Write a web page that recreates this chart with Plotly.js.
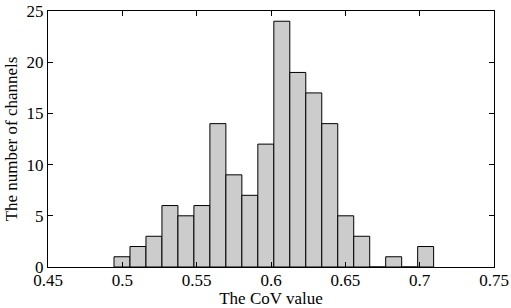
<!DOCTYPE html>
<html>
<head>
<meta charset="utf-8">
<script src="https://cdn.plot.ly/plotly-3.0.1.min.js"></script>
<style>html,body{margin:0;padding:0;background:#fff;}#chart{width:511px;height:308px;}</style>
</head>
<body>
<div id="chart"></div>
<script>
// Histogram: 20 bins starting at binStart, each binWidth wide
var binStart = 0.4944;
var binWidth = 0.01075;
var counts = [1, 2, 3, 6, 5, 6, 14, 9, 7, 12, 24, 19, 17, 14, 5, 3, 0, 1, 0, 2];
var xTicks = [0.45, 0.5, 0.55, 0.6, 0.65, 0.7, 0.75];
var xTickText = ['0.45', '0.5', '0.55', '0.6', '0.65', '0.7', '0.75'];
var yTicks = [0, 5, 10, 15, 20, 25];

var centers = counts.map(function (c, i) { return binStart + binWidth * (i + 0.5); });

var font = {family: 'Liberation Serif, Times New Roman, serif', size: 17, color: '#000'};

var trace = {
  type: 'bar',
  x: centers,
  y: counts,
  width: binWidth,
  marker: {color: '#cccccc', line: {color: '#000', width: 1}},
  hoverinfo: 'x+y'
};

var layout = {
  width: 511, height: 308,
  margin: {l: 48, r: 17, t: 11, b: 41},
  paper_bgcolor: '#fff', plot_bgcolor: '#fff',
  showlegend: false,
  font: font,
  xaxis: {
    range: [0.45, 0.75],
    tickvals: xTicks, ticktext: xTickText,
    ticks: 'inside', ticklen: 5, tickwidth: 1, tickcolor: '#000',
    showline: true, linecolor: '#000', linewidth: 1, mirror: 'ticks',
    showgrid: false, zeroline: false,
    tickfont: font,
    ticklabelstandoff: -2,
    title: {text: 'The CoV value', font: font, standoff: 0}
  },
  yaxis: {
    range: [0, 25],
    tickvals: yTicks,
    ticks: 'inside', ticklen: 5, tickwidth: 1, tickcolor: '#000',
    showline: true, linecolor: '#000', linewidth: 1, mirror: 'ticks',
    showgrid: false, zeroline: false,
    tickfont: font,
    title: {text: 'The number of channels', font: font, standoff: 4}
  }
};

Plotly.newPlot('chart', [trace], layout, {displayModeBar: false, staticPlot: true});
</script>
</body>
</html>
